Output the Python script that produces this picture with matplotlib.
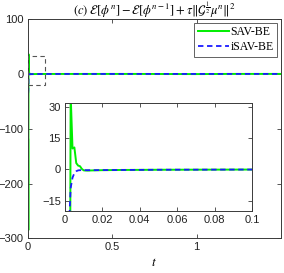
import matplotlib
matplotlib.use("Agg")
import matplotlib.pyplot as plt
from matplotlib.patches import Rectangle

plt.rcParams['mathtext.fontset'] = 'stix'
plt.rcParams['font.family'] = ['Liberation Sans', 'DejaVu Sans']

t = [0.001, 0.002, 0.003, 0.004, 0.005, 0.006, 0.007, 0.008, 0.009, 0.010,
     0.012, 0.015, 0.02, 0.03, 0.05, 0.1, 0.3, 0.6, 1.0, 1.2, 1.5]
sav_be = [-120, -285, 36, 10, 10.5, 3, 1.8, 1.5, 0.2, -0.5,
          -0.6, -0.5, -0.4, -0.3, -0.2, -0.1, -0.05, -0.02, -0.3, -0.02, 0.0]
isav_be = [-35, -30, -9, -4, -1.8, -0.9, -0.5, -0.4, -0.4, -0.4,
           -0.4, -0.4, -0.35, -0.3, -0.2, -0.1, -0.05, -0.02, -0.02, -0.01, 0.0]

main_yticks = [-300, -200, -100, 0, 100]
main_xticks = [0, 0.5, 1]
inset_yticks = [-15, 0, 15, 30]
inset_xticks = [0, 0.02, 0.04, 0.06, 0.08, 0.1]

green = '#00ee00'
blue = '#1a1aff'
spine_col = '#3a3a3a'

fig = plt.figure(figsize=(2.84, 2.73), dpi=100)
ax = fig.add_axes([0.0986, 0.127, 0.890, 0.803])
ax.plot(t, sav_be, color=green, lw=1.4, label='SAV-BE')
ax.plot(t, isav_be, color=blue, lw=1.3, ls=(0, (3, 2)), label='iSAV-BE')
ax.set_xlim(0, 1.5)
ax.set_ylim(-300, 100)
ax.set_xticks(main_xticks)
ax.set_xticklabels(['0', '0.5', '1'])
ax.set_yticks(main_yticks)
ax.tick_params(direction='in', length=3, width=0.6, labelsize=8, top=True, right=True,
               colors=spine_col, labelcolor='#222222', pad=3)
for s in ax.spines.values():
    s.set_color(spine_col)
    s.set_linewidth(0.7)
ax.set_title(r'$(c)\ \mathcal{E}[\phi^n]-\mathcal{E}[\phi^{n-1}]+\tau\|\mathcal{G}^{\frac{1}{2}}\mu^n\|^2$',
             fontsize=9, pad=3)
ax.set_xlabel(r'$t$', fontsize=9.5, labelpad=3)
leg = ax.legend(loc='upper right', prop={'family': 'Liberation Serif', 'size': 8.5},
                frameon=True, fancybox=False, edgecolor=spine_col, handlelength=2.6,
                borderpad=0.3, labelspacing=0.25, handletextpad=0.15, borderaxespad=0.3)
leg.get_frame().set_linewidth(0.7)
ax.add_patch(Rectangle((0, -20), 0.1, 52, fill=False, ls=(0, (4, 3)), lw=0.8,
                       edgecolor='#555555', zorder=5))

ins = fig.add_axes([0.229, 0.227, 0.658, 0.397])
ins.plot(t, sav_be, color=green, lw=1.4)
ins.plot(t, isav_be, color=blue, lw=1.3, ls=(0, (3, 2)))
ins.set_xlim(0, 0.1)
ins.set_ylim(-20, 32)
ins.set_xticks(inset_xticks)
ins.set_xticklabels(['0', '0.02', '0.04', '0.06', '0.08', '0.1'])
ins.set_yticks(inset_yticks)
ins.tick_params(direction='in', length=3, width=0.6, labelsize=8, top=True, right=True,
               colors=spine_col, labelcolor='#222222', pad=3)
for s in ins.spines.values():
    s.set_color(spine_col)
    s.set_linewidth(0.7)

fig.savefig('out.png', dpi=100)
